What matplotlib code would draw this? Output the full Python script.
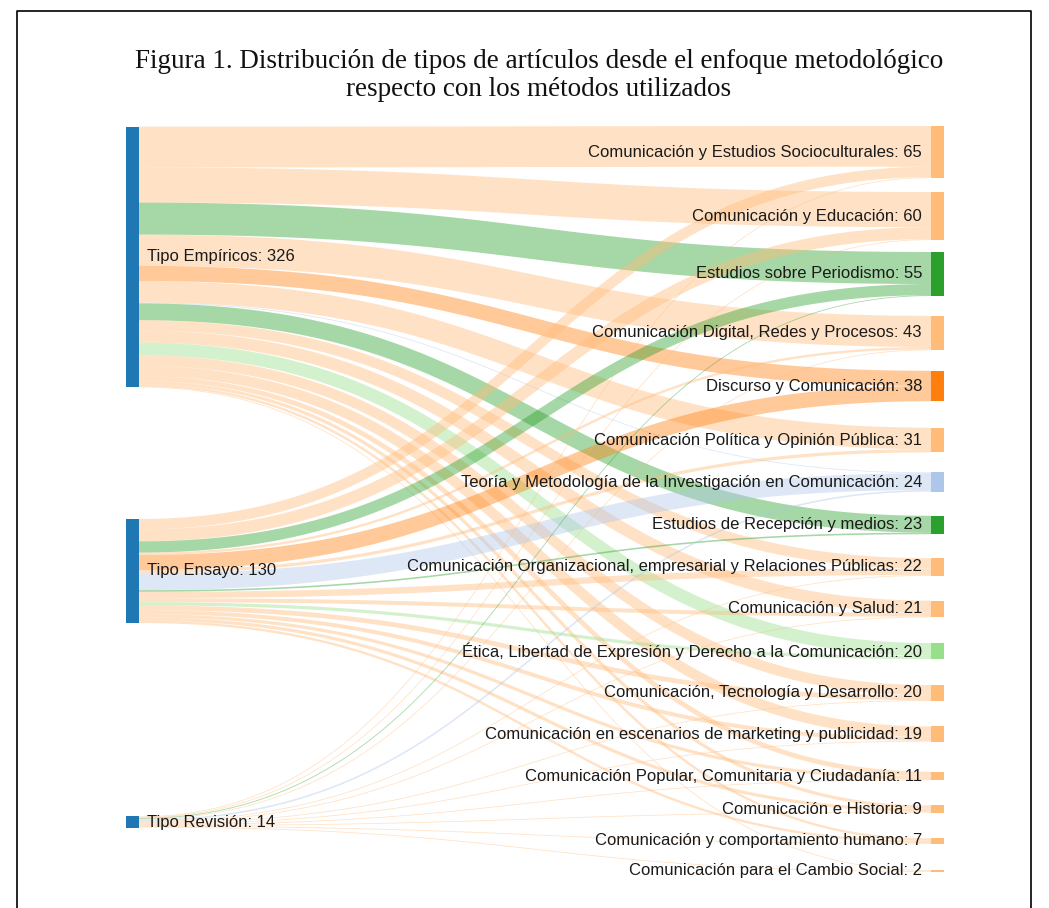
import numpy as np
import matplotlib
matplotlib.use("Agg")
import matplotlib.pyplot as plt
from matplotlib.patches import Rectangle, Polygon

# --- datos ---
fuentes = ["Tipo Empíricos", "Tipo Ensayo", "Tipo Revisión"]
destinos = [
    "Comunicación y Estudios Socioculturales",
    "Comunicación y Educación",
    "Estudios sobre Periodismo",
    "Comunicación Digital, Redes y Procesos",
    "Discurso y Comunicación",
    "Comunicación Política y Opinión Pública",
    "Teoría y Metodología de la Investigación en Comunicación",
    "Estudios de Recepción y medios",
    "Comunicación Organizacional, empresarial y Relaciones Públicas",
    "Comunicación y Salud",
    "Ética, Libertad de Expresión y Derecho a la Comunicación",
    "Comunicación, Tecnología y Desarrollo",
    "Comunicación en escenarios de marketing y publicidad",
    "Comunicación Popular, Comunitaria y Ciudadanía",
    "Comunicación e Historia",
    "Comunicación y comportamiento humano",
    "Comunicación para el Cambio Social",
]
flujos_empiricos = [51, 44, 40, 39, 19, 27, 1, 21, 13, 15, 16, 13, 13, 6, 4, 3, 1]
flujos_ensayo = [13, 15, 14, 3, 19, 4, 21, 2, 8, 5, 4, 6, 5, 4, 4, 3, 0]
flujos_revision = [1, 1, 1, 1, 0, 0, 2, 0, 1, 1, 0, 1, 1, 1, 1, 1, 1]

titulo_1 = "Figura 1. Distribución de tipos de artículos desde el enfoque metodológico"
titulo_2 = "respecto con los métodos utilizados"

# --- estilo / disposición (pixeles) ---
AZUL = "#1f77b4"
NAR_CLARO = "#ffbb78"
colores_destino = [NAR_CLARO, NAR_CLARO, "#2ca02c", NAR_CLARO, "#ff7f0e", NAR_CLARO,
                   "#aec7e8", "#2ca02c", NAR_CLARO, NAR_CLARO, "#98df8a", NAR_CLARO,
                   NAR_CLARO, NAR_CLARO, NAR_CLARO, NAR_CLARO, NAR_CLARO]
k = 0.8  # px por artículo
x_izq, x_der, ancho_nodo = 126, 931, 13
centros_fuente = [257, 571, 822]
centros_destino = [152, 216, 274, 333, 386, 440, 482, 525, 567, 609, 651,
                   693, 734, 776, 809, 841, 871]
alfa = 0.42

flujos = np.array([flujos_empiricos, flujos_ensayo, flujos_revision], dtype=float)
tot_f = flujos.sum(axis=1)
tot_d = flujos.sum(axis=0)

fig = plt.figure(figsize=(10.49, 9.08), dpi=100)
ax = fig.add_axes([0, 0, 1, 1])
ax.set_xlim(0, 1049)
ax.set_ylim(908, 0)
ax.axis("off")

top_f = [c - t * k / 2 for c, t in zip(centros_fuente, tot_f)]
top_d = [c - t * k / 2 for c, t in zip(centros_destino, tot_d)]

# posición de cada enlace en su nodo de origen (ordenado por destino)
y0 = np.zeros_like(flujos)
for i in range(3):
    y = top_f[i]
    for j in range(len(destinos)):
        w = flujos[i, j] * k
        y0[i, j] = y + w / 2
        y += w
# posición en el nodo de destino (ordenado por origen)
y1 = np.zeros_like(flujos)
for j in range(len(destinos)):
    y = top_d[j]
    for i in range(3):
        w = flujos[i, j] * k
        y1[i, j] = y + w / 2
        y += w

t = np.linspace(0, 1, 120)
xa, xb = x_izq + ancho_nodo, x_der
xm = (xa + xb) / 2
for i in range(3):
    for j in range(len(destinos)):
        v = flujos[i, j]
        if v <= 0:
            continue
        w = v * k
        ya, yb = y0[i, j], y1[i, j]
        bx = (1 - t) ** 3 * xa + 3 * (1 - t) ** 2 * t * xm + 3 * (1 - t) * t ** 2 * xm + t ** 3 * xb
        by = (1 - t) ** 3 * ya + 3 * (1 - t) ** 2 * t * ya + 3 * (1 - t) * t ** 2 * yb + t ** 3 * yb
        dx = 3 * (1 - t) ** 2 * (xm - xa) + 3 * t ** 2 * (xb - xm)
        dy = 6 * (1 - t) * t * (yb - ya)
        n = np.hypot(dx, dy)
        nx, ny = -dy / n, dx / n
        arriba = np.column_stack([bx + nx * w / 2, by + ny * w / 2])
        abajo = np.column_stack([bx - nx * w / 2, by - ny * w / 2])
        ax.add_patch(Polygon(np.vstack([arriba, abajo[::-1]]), closed=True,
                             facecolor=colores_destino[j], alpha=alfa, lw=0))

fuente_txt = ["Liberation Sans", "DejaVu Sans"]
for i, nombre in enumerate(fuentes):
    ax.add_patch(Rectangle((x_izq, top_f[i]), ancho_nodo, tot_f[i] * k,
                           facecolor=AZUL, lw=0))
    ax.text(x_izq + ancho_nodo + 8, centros_fuente[i], f"{nombre}: {int(tot_f[i])}",
            ha="left", va="center", fontsize=12, color="#1a1a1a", family=fuente_txt)

for j, nombre in enumerate(destinos):
    ax.add_patch(Rectangle((x_der, top_d[j]), ancho_nodo, max(tot_d[j] * k, 1.2),
                           facecolor=colores_destino[j], lw=0))
    ax.text(x_der - 9, centros_destino[j], f"{nombre}: {int(tot_d[j])}",
            ha="right", va="center", fontsize=12, color="#1a1a1a", family=fuente_txt)

fuente_titulo = ["Liberation Serif", "DejaVu Serif"]
ax.text(539, 62, titulo_1, ha="center", va="center", fontsize=19.5,
        family=fuente_titulo, color="#111111")
ax.text(539, 89, titulo_2, ha="center", va="center", fontsize=19.5,
        family=fuente_titulo, color="#111111")

# marco
ax.plot([17, 17, 1031, 1031], [908, 11, 11, 908], color="black", lw=1.2)

fig.savefig("out.png", dpi=100)
